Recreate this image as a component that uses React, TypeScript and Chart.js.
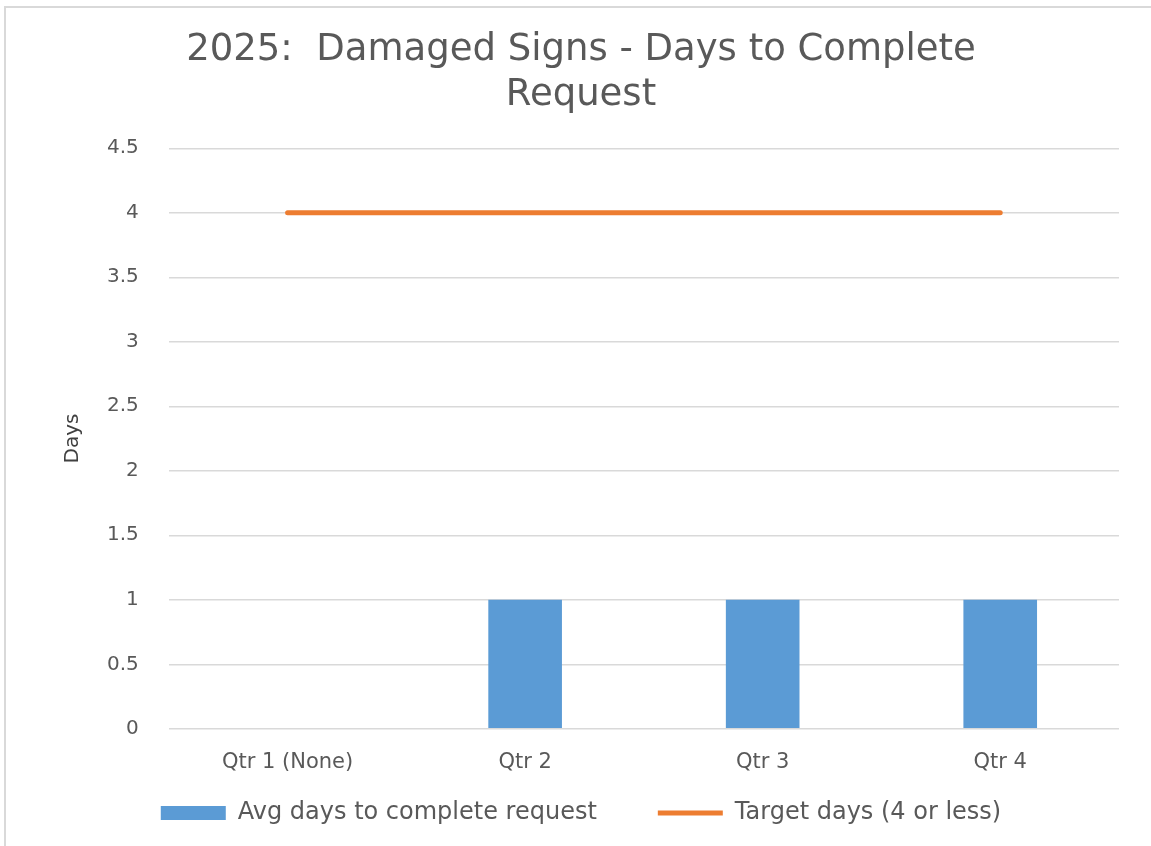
import React, { useEffect, useRef } from "react";
import { Chart, registerables } from "chart.js";

Chart.register(...registerables);

const categories = ["Qtr 1 (None)", "Qtr 2", "Qtr 3", "Qtr 4"];
const avgDays = [0, 1, 1, 1];
const targetDays = [4, 4, 4, 4];
const titleLines = ["2025:  Damaged Signs - Days to Complete", "Request"];
const seriesNames = ["Avg days to complete request", "Target days (4 or less)"];
const yTitle = "Days";

const FONT = "'DejaVu Sans', sans-serif";

export default function App() {
  const ref = useRef<HTMLCanvasElement | null>(null);

  useEffect(() => {
    if (!ref.current) return;
    const chart = new Chart(ref.current, {
      type: "bar",
      data: {
        labels: categories,
        datasets: [
          {
            type: "bar",
            label: seriesNames[0],
            data: avgDays,
            backgroundColor: "#5B9BD5",
            borderWidth: 0,
            barPercentage: 0.31,
            categoryPercentage: 1,
            order: 2,
          },
          {
            type: "line",
            label: seriesNames[1],
            data: targetDays,
            borderColor: "#ED7D31",
            backgroundColor: "#ED7D31",
            borderWidth: 5,
            borderCapStyle: "round",
            pointRadius: 0,
            fill: false,
            order: 1,
          },
        ],
      },
      options: {
        responsive: false,
        animation: false,
        layout: { padding: { left: 43, right: 32, top: 28, bottom: 11 } },
        plugins: {
          title: {
            display: true,
            text: titleLines,
            color: "#595959",
            font: { family: FONT, size: 37, weight: "normal", lineHeight: 1.22 },
            padding: { top: 0, bottom: 30 },
          },
          legend: {
            position: "bottom",
            labels: {
              color: "#595959",
              font: { family: FONT, size: 24 },
              usePointStyle: true,
              boxHeight: 14,
              boxWidth: 65,
              pointStyleWidth: 65,
              padding: 13,
              generateLabels: (c: any) =>
                c.data.datasets.map((ds: any, i: number) => ({
                  text: i === 0 ? ds.label + "\u2003\u2003" : ds.label,
                  fillStyle: ds.backgroundColor,
                  strokeStyle: i === 0 ? ds.backgroundColor : ds.borderColor,
                  lineWidth: i === 0 ? 0 : 5,
                  pointStyle: i === 0 ? "rect" : "line",
                  datasetIndex: i,
                  hidden: false,
                  fontColor: "#595959",
                })),
            },
          },
          tooltip: { enabled: false },
        },
        scales: {
          x: {
            grid: { display: false },
            border: { display: false },
            ticks: { color: "#595959", font: { family: FONT, size: 21 }, padding: 13 },
          },
          y: {
            min: 0,
            max: 4.5,
            ticks: {
              stepSize: 0.5,
              color: "#595959",
              font: { family: FONT, size: 20 },
              padding: 30,
              callback: (v: any) => String(Number(v)),
            },
            grid: { color: "#d9d9d9", lineWidth: 1.5, drawTicks: false },
            border: { display: false },
            title: {
              display: true,
              text: yTitle,
              color: "#404040",
              font: { family: FONT, size: 20 },
              padding: { top: 18, bottom: -8 },
            },
          },
        },
      },
    });
    return () => chart.destroy();
  }, []);

  return (
    <div style={{ position: "fixed", left: 0, top: 0, width: 1151, height: 846, background: "#fff" }}>
      <div
        style={{
          position: "absolute",
          left: 4,
          top: 6,
          right: 0,
          bottom: 0,
          borderLeft: "2px solid #d9d9d9",
          borderTop: "2px solid #d9d9d9",
        }}
      />
      <canvas ref={ref} width={1151} height={846} style={{ position: "absolute", left: 0, top: 0 }} />
    </div>
  );
}
